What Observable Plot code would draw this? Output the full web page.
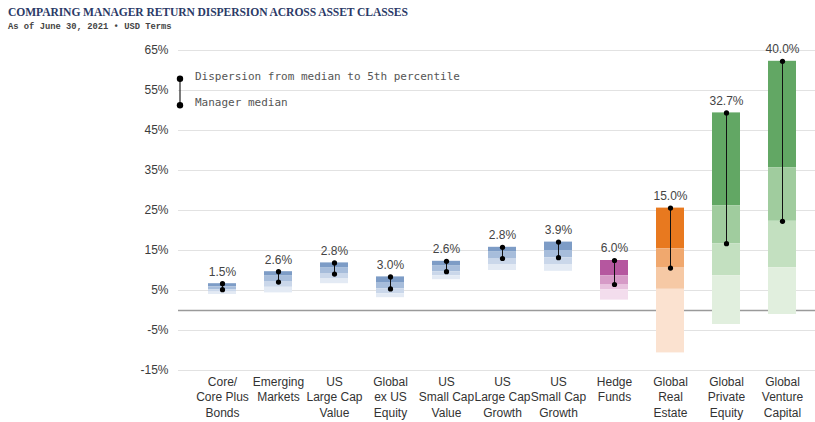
<!DOCTYPE html>
<html>
<head>
<meta charset="utf-8">
<script src="https://cdn.jsdelivr.net/npm/d3@7"></script>
<script src="https://cdn.jsdelivr.net/npm/@observablehq/plot@0.6"></script>
<style>
  body { margin: 0; background: #fff; width: 815px; height: 422px; overflow: hidden; }
  #head { height: 36px; position: relative; }
  #title { position: absolute; left: 8px; top: 6px; font-family: "Liberation Serif", serif; font-weight: bold; font-size: 11.6px; color: #2b3a67; white-space: nowrap; letter-spacing: -0.1px; }
  #subtitle { position: absolute; left: 8px; top: 22px; font-family: "Liberation Mono", monospace; font-weight: bold; font-size: 8.8px; color: #444; white-space: nowrap; }
  #chart svg { display: block; }
</style>
</head>
<body>
<div id="head">
  <div id="title">COMPARING MANAGER RETURN DISPERSION ACROSS ASSET CLASSES</div>
  <div id="subtitle">As of June 30, 2021 • USD Terms</div>
</div>
<div id="chart"></div>
<script>
const categories = ["Core/Core Plus Bonds", "Emerging Markets", "US Large Cap Value", "Global ex US Equity", "US Small Cap Value", "US Large Cap Growth", "US Small Cap Growth", "Hedge Funds", "Global Real Estate", "Global Private Equity", "Global Venture Capital"];
const tickLabels = ["Core/\nCore Plus\nBonds", "Emerging\nMarkets", "US\nLarge Cap\nValue", "Global\nex US\nEquity", "US\nSmall Cap\nValue", "US\nLarge Cap\nGrowth", "US\nSmall Cap\nGrowth", "Hedge\nFunds", "Global\nReal\nEstate", "Global\nPrivate\nEquity", "Global\nVenture\nCapital"];
const p5     = [6.7, 9.7, 11.9, 8.4, 12.3, 15.8, 17.1, 12.5, 25.6, 49.4, 62.3];
const p25    = [5.9, 8.6, 10.6, 7.0, 11.1, 14.6, 15.0, 8.7, 15.4, 26.2, 35.7];
const median = [5.2, 7.1, 9.1, 5.4, 9.7, 13.0, 13.2, 6.5, 10.6, 16.7, 22.3];
const p75    = [4.6, 5.8, 8.0, 4.2, 8.7, 11.5, 11.5, 5.2, 5.3, 8.7, 10.7];
const p95    = [4.0, 4.4, 6.7, 3.2, 7.7, 10.0, 9.8, 2.6, -10.6, -3.5, -1.0];
const dispersionLabels = ["1.5%", "2.6%", "2.8%", "3.0%", "2.6%", "2.8%", "3.9%", "6.0%", "15.0%", "32.7%", "40.0%"];
const groups = ["blue", "blue", "blue", "blue", "blue", "blue", "blue", "magenta", "orange", "green", "green"];
const yTicks = [-15, -5, 5, 15, 25, 35, 45, 55, 65];
const palettes = {
  blue:    ["#7d9cc6", "#a7bddb", "#cad7ea", "#e3eaf4"],
  magenta: ["#b5579f", "#d69bc7", "#e8c2de", "#f3dded"],
  orange:  ["#e8791f", "#f0a86e", "#f6c9a5", "#fbe2d0"],
  green:   ["#62a764", "#a0cc9e", "#c3e0c0", "#e1efde"]
};
const legendText = ["Dispersion from median to 5th percentile", "Manager median"];

const rows = categories.map((c, i) => ({cat: c, p5: p5[i], p25: p25[i], median: median[i], p75: p75[i], p95: p95[i], label: dispersionLabels[i], group: groups[i]}));
const segs = [];
rows.forEach(r => {
  const b = [r.p5, r.p25, r.median, r.p75, r.p95];
  for (let k = 0; k < 4; k++) segs.push({cat: r.cat, y1: b[k], y2: b[k + 1], fill: palettes[r.group][k]});
});
const labelMap = new Map(categories.map((c, i) => [c, tickLabels[i]]));

const plot = Plot.plot({
  width: 815,
  height: 386,
  marginLeft: 178,
  marginRight: 0,
  marginTop: 14,
  marginBottom: 52,
  style: {fontFamily: "Arial, 'Liberation Sans', sans-serif", color: "#3c3c3c", background: "#fff"},
  x: {domain: categories, range: [178.4, 824.7], padding: 0.5, paddingOuter: 0.5},
  y: {domain: [-15, 65]},
  color: {type: "identity"},
  marks: [
    Plot.ruleY(yTicks, {stroke: "#e2e2e2", strokeWidth: 1}),
    Plot.ruleY([0], {stroke: "#9a9a9a", strokeWidth: 1.5}),
    Plot.barY(segs, {x: "cat", y1: "y1", y2: "y2", fill: "fill"}),
    Plot.ruleX(rows, {x: "cat", y1: "median", y2: "p5", stroke: "#111", strokeWidth: 1}),
    Plot.dot(rows, {x: "cat", y: "p5", r: 2.6, fill: "#000"}),
    Plot.dot(rows, {x: "cat", y: "median", r: 2.6, fill: "#000"}),
    Plot.text(rows, {x: "cat", y: "p5", text: "label", dy: -12, fontSize: 12, fill: "#444"}),
    Plot.axisY({ticks: yTicks, tickFormat: d => d + "%", tickSize: 0, tickPadding: 10, fontSize: 12, label: null}),
    Plot.axisX({tickFormat: d => labelMap.get(d), tickSize: 0, tickPadding: 4, fontSize: 12, lineHeight: 1.3, label: null, fill: "#333"})
  ]
});
document.getElementById("chart").appendChild(plot);

// legend drawn inside the plot frame
const ys = plot.scale("y");
const svg = d3.select(plot);
const lx = 180;
const yTop = ys.apply(57.8), yBot = ys.apply(51.2);
const lg = svg.append("g").attr("text-anchor", "start");
lg.append("line").attr("x1", lx).attr("x2", lx).attr("y1", yTop).attr("y2", yBot).attr("stroke", "#222").attr("stroke-width", 1.2);
lg.append("circle").attr("cx", lx).attr("cy", yTop).attr("r", 3.2).attr("fill", "#000");
lg.append("circle").attr("cx", lx).attr("cy", yBot).attr("r", 3.2).attr("fill", "#000");
lg.selectAll("text").data(legendText).join("text")
  .attr("x", 195)
  .attr("y", (d, i) => i === 0 ? yTop - 3 : yBot - 3)
  .attr("dy", "0.35em")
  .attr("text-anchor", "start")
  .attr("font-family", "'DejaVu Sans Mono', monospace")
  .attr("font-size", 11)
  .attr("fill", "#555")
  .text(d => d);
</script>
</body>
</html>
